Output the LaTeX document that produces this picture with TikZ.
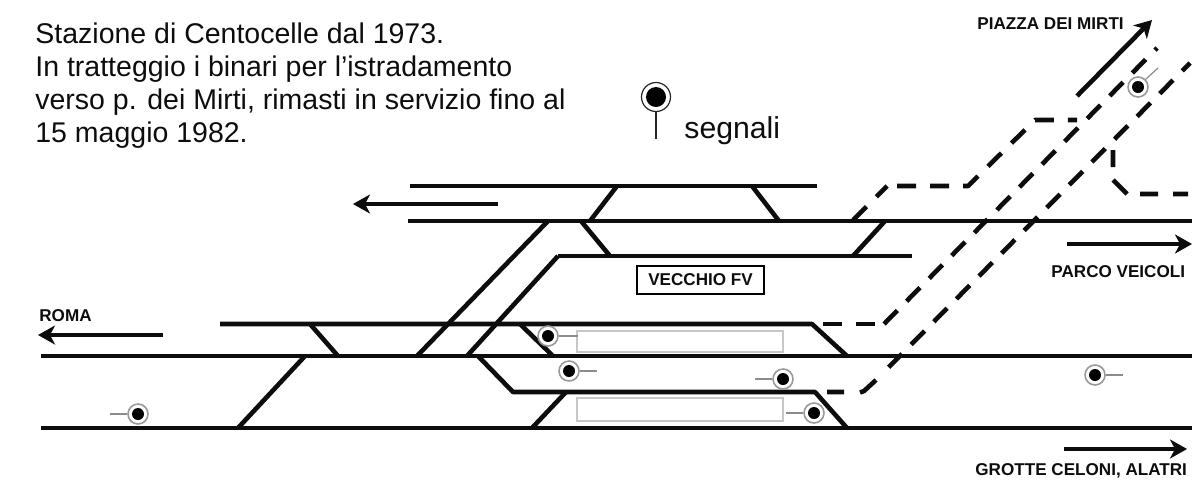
\documentclass[tikz,border=0pt]{standalone}
\usepackage{fontspec}
\setmainfont{Liberation Sans}
\usetikzlibrary{arrows.meta}

\tikzstyle{binario} = [line width=2.3pt, line cap=butt, line join=round, black!95]
\tikzstyle{tratteggio} = [binario, dash pattern=on 9.5pt off 7pt]
\tikzstyle{diagonale} = [binario, dash pattern=on 9.5pt off 6.55pt]
\tikzstyle{verso} = [line width=2.3pt, black!95, -{Stealth[length=8.5pt,width=9.5pt,inset=2.5pt]}]
\tikzstyle{banchina} = [draw=black!22, line width=.7pt]
\tikzstyle{sig} = [circle, draw=black!40, line width=.8pt, fill=white, inner sep=0pt, minimum size=10pt,
    path picture={\fill[black] (path picture bounding box.center) circle (3pt);}]
\tikzstyle{gambo} = [black!45, line width=.6pt]
\tikzstyle{nome} = [font=\fontsize{8.55}{10}\selectfont\bfseries, inner sep=0pt, black!95]

\begin{document}
\begin{tikzpicture}[x=.5pt, y=-.5pt]
        \useasboundingbox (0,0) rectangle (1202,494);

        % binari
        \draw [binario] (410,186) -- (817,186);
        \draw [binario] (408,221) -- (1192,221);
        \draw [binario] (558,256) -- (912,256);
        \draw [binario] (220,324) -- (812,324) -- (847,356);
        \draw [binario] (41,356) -- (1192,356);
        \draw [binario] (478,356) -- (513,392) -- (815,392) -- (847,428);
        \draw [binario] (41,428) -- (1192,428);

        % scambi
        \draw [binario] (590,221) -- (617,186);
        \draw [binario] (752,186) -- (779,221);
        \draw [binario] (581,221) -- (610,256);
        \draw [binario] (853,256) -- (885,221);
        \draw [binario] (548,221) -- (417,356);
        \draw [binario] (558,256) -- (467,356);
        \draw [binario] (305,356) -- (238,428);
        \draw [binario] (310,324) -- (338,356);
        \draw [binario] (520,324) -- (553,356);
        \draw [binario] (566,392) -- (532,428);

        % tratteggio per p. dei Mirti
        \draw [tratteggio] (853,220) -- (887,186);
        \draw [tratteggio] (897,186) -- (968,186) -- (1035,120) -- (1077,120);
        \draw [diagonale, dash phase=8pt] (1157,48) -- (883,325);
        \draw [tratteggio] (875,324) -- (823,324);
        \draw [diagonale, dash phase=4pt] (1190,63) -- (880,376);
        \draw [binario] (876,380) -- (864,391) -- (860,392.5) (844,392) -- (827,392);
        \draw [binario] (1113,150) -- (1113,167) (1113,180) -- (1127,194) (1140,194) -- (1158,194) (1173,194) -- (1188,194);

        % banchine
        \draw [banchina] (577,331) rectangle (783,352);
        \draw [banchina] (577,398) rectangle (783,421);

        % segnali
        \node (sa) [sig] at (548,336) {};
        \node (sb) [sig] at (569,371) {};
        \node (sc) [sig] at (783,379) {};
        \node (sd) [sig] at (814,413) {};
        \node (se) [sig] at (138,414) {};
        \node (sf) [sig] at (1095,375) {};
        \node (sg) [sig] at (1138,87) {};
        \draw [gambo] (sa.east) -- ++(19,0);
        \draw [gambo] (sb.east) -- ++(17,0);
        \draw [gambo] (sc.west) -- ++(-17,0);
        \draw [gambo] (sd.west) -- ++(-17,0);
        \draw [gambo] (se.west) -- ++(-17,0);
        \draw [gambo] (sf.east) -- ++(17,0);
        \draw [gambo] (sg.north east) -- (1158,68);

        % legenda
        \node (legenda) [circle, draw=black!85, line width=.6pt, inner sep=0pt, minimum size=14.5pt,
            path picture={\fill[black] (path picture bounding box.center) circle (5pt);}] at (656,97) {};
        \draw [black!85, line width=.6pt] (legenda.south) -- ++(0,27);
        \node (segnali) [anchor=base west, inner sep=0pt, font=\fontsize{15.1}{17}\selectfont, black!95] at (684,138) {segnali};

        % frecce
        \draw [verso] (1077,96) -- (1152,20);
        \draw [verso] (498,204) -- (353,204);
        \draw [verso] (1067,244) -- (1192,244);
        \draw [verso] (163,335) -- (38,335);
        \draw [verso] (1064,449) -- (1187,449);

        % nomi
        \node (mirti) [nome, anchor=base west] at (977,29) {PIAZZA DEI MIRTI};
        \node (parco) [nome, anchor=base west] at (1051,277) {PARCO VEICOLI};
        \node (roma) [nome, anchor=base west] at (39,321) {ROMA};
        \node (grotte) [nome, anchor=base west] at (975,475) {GROTTE CELONI, ALATRI};
        \node (fv) [nome, draw=black, line width=.6pt, minimum width=63.5pt, minimum height=14pt] at (700.5,280) {VECCHIO FV};

        \node (titolo) [anchor=north west, align=left, inner sep=0pt, black!95,
            font=\fontsize{14.25}{16.65}\selectfont] at (35,22) {Stazione di Centocelle dal 1973.\\In tratteggio i binari per l'istradamento\\verso p. dei Mirti, rimasti in servizio fino al\\15 maggio 1982.};
    \end{tikzpicture}
\end{document}
